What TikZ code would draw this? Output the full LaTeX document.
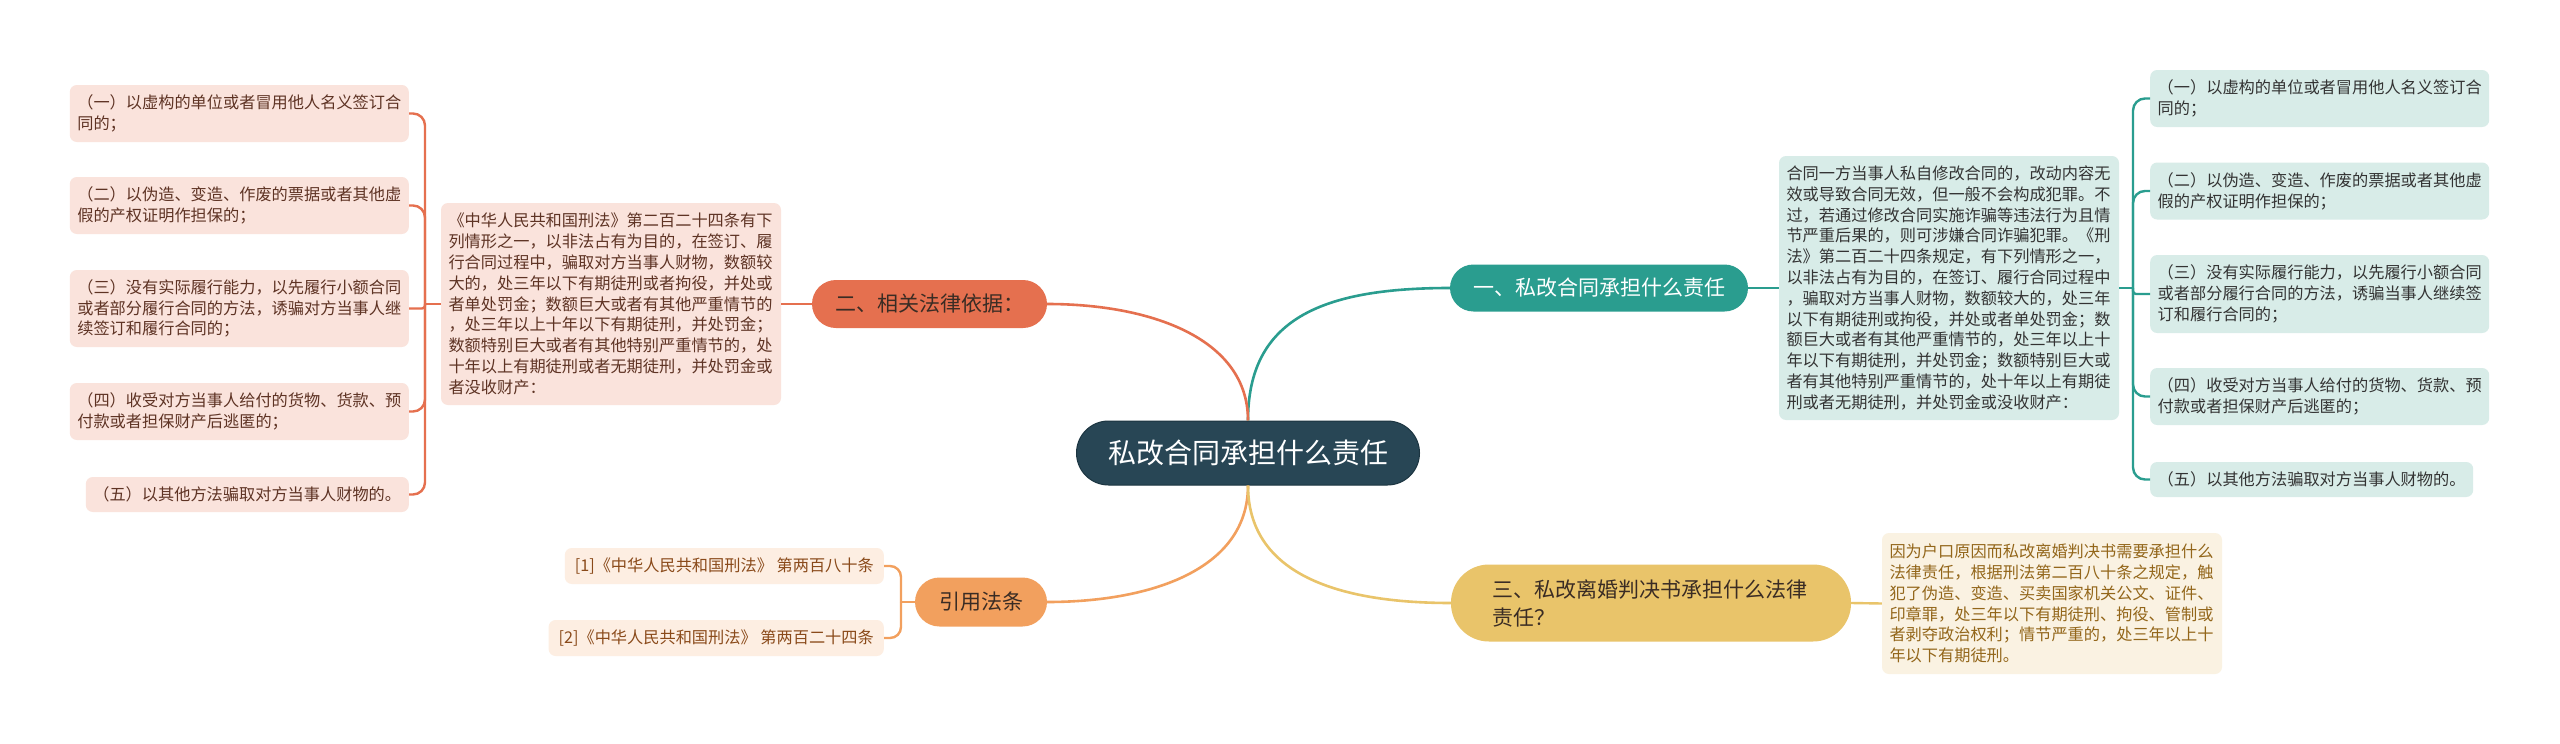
\documentclass[tikz,border=0pt]{standalone}
\usepackage{fontspec}
\setmainfont{Noto Sans CJK SC}
\definecolor{cdark}{HTML}{284655}
\definecolor{cdarkline}{HTML}{1C3541}
\definecolor{cteal}{HTML}{2A9D8F}
\definecolor{ctealbg}{HTML}{D8ECE8}
\definecolor{ccoral}{HTML}{E5704F}
\definecolor{ccoralbg}{HTML}{FAE3DC}
\definecolor{ccoraltx}{HTML}{5E3324}
\definecolor{corange}{HTML}{F2A05E}
\definecolor{corangebg}{HTML}{FDEEE2}
\definecolor{corangetx}{HTML}{8A4A1A}
\definecolor{cgold}{HTML}{E9C46A}
\definecolor{cgoldbg}{HTML}{FAF2E2}
\definecolor{cgoldtx}{HTML}{93661A}
\definecolor{ctext}{HTML}{333333}
\definecolor{cbrtx}{HTML}{3A2C24}
\tikzset{
  centre/.style={fill=cdark, draw=cdarkline, line width=1pt, text=white, rounded corners=32pt,
    minimum width=343pt, minimum height=64pt, inner sep=0pt, font=\fontsize{28}{34}\selectfont},
  branch/.style={inner sep=0pt, font=\fontsize{21}{28}\selectfont},
  tbox/.style={rounded corners=7pt, text width=325pt, inner xsep=7.5pt, inner ysep=4pt,
    align=left, font=\fontsize{16.2}{20.8}\selectfont},
  leafbox/.style={rounded corners=7pt, text width=324pt, inner xsep=7.5pt, inner ysep=4pt,
    align=left, font=\fontsize{16.2}{20.8}\selectfont},
  shortleaf/.style={text width=308pt},
  oleaf/.style={rounded corners=7pt, fill=corangebg, text=corangetx, inner xsep=10pt,
    minimum height=36pt, font=\fontsize{16.2}{20.8}\selectfont},
  conn/.style={line width=2.6pt},
  brk/.style={line width=2.4pt}
}
\begin{document}
\begin{tikzpicture}[x=1pt,y=-1pt]
\useasboundingbox (0,0) rectangle (2560,744);
\fill[white] (0,0) rectangle (2560,744);

% central node
\node[centre] (c) at (1248,453) {私改合同承担什么责任};

% branch nodes
\node[branch, fill=cteal, text=white, rounded corners=23.5pt, minimum width=298pt, minimum height=47pt] (b1) at (1599,288) {一、私改合同承担什么责任};
\node[branch, fill=ccoral, text=cbrtx, rounded corners=24pt, minimum width=235pt, minimum height=48pt] (b2) at (929.5,304) {二、相关法律依据：};
\node[branch, fill=corange, text=cbrtx, rounded corners=24.5pt, minimum width=132pt, minimum height=49pt] (b3) at (981,602) {引用法条};
\node[branch, fill=cgold, text=cbrtx, rounded corners=38pt, minimum width=400pt, minimum height=77pt, text width=318pt, align=left] (b4) at (1651,603) {三、私改离婚判决书承担什么法律\\责任？};

% central connectors
\draw[conn, cteal] (c.north) .. controls (1248,320) and (1320,288) .. (b1.west);
\draw[conn, ccoral] (c.north) .. controls (1248,338) and (1150,304) .. (b2.east);
\draw[conn, corange] (c.south) .. controls (1248,570) and (1150,602) .. (b3.east);
\draw[conn, cgold] (c.south) .. controls (1248,570) and (1330,603) .. (b4.west);

% right text box (teal)
\node[tbox, fill=ctealbg, text=ctext, minimum height=264pt] (rbox) at (1949,288) {合同一方当事人私自修改合同的，改动内容无\\效或导致合同无效，但一般不会构成犯罪。不\\过，若通过修改合同实施诈骗等违法行为且情\\节严重后果的，则可涉嫌合同诈骗犯罪。《刑\\法》第二百二十四条规定，有下列情形之一，\\以非法占有为目的，在签订、履行合同过程中\\，骗取对方当事人财物，数额较大的，处三年\\以下有期徒刑或拘役，并处或者单处罚金；数\\额巨大或者有其他严重情节的，处三年以上十\\年以下有期徒刑，并处罚金；数额特别巨大或\\者有其他特别严重情节的，处十年以上有期徒\\刑或者无期徒刑，并处罚金或没收财产：};
\draw[brk, cteal] (b1.east) -- (rbox.west);

% right leaves
\node[leafbox, fill=ctealbg, text=ctext, minimum height=57pt, anchor=west] (rl1) at (2150,98.5) {（一）以虚构的单位或者冒用他人名义签订合\\同的；};
\node[leafbox, fill=ctealbg, text=ctext, minimum height=57pt, anchor=west] (rl2) at (2150,191) {（二）以伪造、变造、作废的票据或者其他虚\\假的产权证明作担保的；};
\node[leafbox, fill=ctealbg, text=ctext, minimum height=78pt, anchor=west] (rl3) at (2150,294) {（三）没有实际履行能力，以先履行小额合同\\或者部分履行合同的方法，诱骗当事人继续签\\订和履行合同的；};
\node[leafbox, fill=ctealbg, text=ctext, minimum height=57pt, anchor=west] (rl4) at (2150,396.5) {（四）收受对方当事人给付的货物、货款、预\\付款或者担保财产后逃匿的；};
\node[leafbox, shortleaf, fill=ctealbg, text=ctext, minimum height=35pt, anchor=west] (rl5) at (2150,479.5) {（五）以其他方法骗取对方当事人财物的。};
\coordinate (rsp) at (2133,288);
\draw[brk, cteal] (rbox.east) -- (rsp);
\draw[brk, cteal, rounded corners=12pt] (rsp) |- (rl1.west);
\draw[brk, cteal, rounded corners=12pt] (rsp) |- (rl2.west);
\draw[brk, cteal, rounded corners=3pt] (rsp) |- (rl3.west);
\draw[brk, cteal, rounded corners=12pt] (rsp) |- (rl4.west);
\draw[brk, cteal, rounded corners=12pt] (rsp) |- (rl5.west);

% left text box (coral)
\node[tbox, fill=ccoralbg, text=ccoraltx, minimum height=202pt] (lbox) at (611,304) {《中华人民共和国刑法》第二百二十四条有下\\列情形之一，以非法占有为目的，在签订、履\\行合同过程中，骗取对方当事人财物，数额较\\大的，处三年以下有期徒刑或者拘役，并处或\\者单处罚金；数额巨大或者有其他严重情节的\\，处三年以上十年以下有期徒刑，并处罚金；\\数额特别巨大或者有其他特别严重情节的，处\\十年以上有期徒刑或者无期徒刑，并处罚金或\\者没收财产：};
\draw[brk, ccoral] (b2.west) -- (lbox.east);

% left leaves
\node[leafbox, fill=ccoralbg, text=ccoraltx, minimum height=57pt, anchor=east] (ll1) at (409,113.5) {（一）以虚构的单位或者冒用他人名义签订合\\同的；};
\node[leafbox, fill=ccoralbg, text=ccoraltx, minimum height=57pt, anchor=east] (ll2) at (409,205.5) {（二）以伪造、变造、作废的票据或者其他虚\\假的产权证明作担保的；};
\node[leafbox, fill=ccoralbg, text=ccoraltx, minimum height=77pt, anchor=east] (ll3) at (409,308.5) {（三）没有实际履行能力，以先履行小额合同\\或者部分履行合同的方法，诱骗对方当事人继\\续签订和履行合同的；};
\node[leafbox, fill=ccoralbg, text=ccoraltx, minimum height=57pt, anchor=east] (ll4) at (409,411.5) {（四）收受对方当事人给付的货物、货款、预\\付款或者担保财产后逃匿的；};
\node[leafbox, shortleaf, fill=ccoralbg, text=ccoraltx, minimum height=35pt, anchor=east] (ll5) at (409,494.5) {（五）以其他方法骗取对方当事人财物的。};
\coordinate (lsp) at (425,304);
\draw[brk, ccoral] (lbox.west) -- (lsp);
\draw[brk, ccoral, rounded corners=12pt] (lsp) |- (ll1.east);
\draw[brk, ccoral, rounded corners=12pt] (lsp) |- (ll2.east);
\draw[brk, ccoral, rounded corners=3pt] (lsp) |- (ll3.east);
\draw[brk, ccoral, rounded corners=12pt] (lsp) |- (ll4.east);
\draw[brk, ccoral, rounded corners=12pt] (lsp) |- (ll5.east);

% orange leaves
\node[oleaf, anchor=east] (ol1) at (884,566) {[1]《中华人民共和国刑法》 第两百八十条};
\node[oleaf, anchor=east] (ol2) at (884,638) {[2]《中华人民共和国刑法》 第两百二十四条};
\coordinate (osp) at (901,602);
\draw[brk, corange] (b3.west) -- (osp);
\draw[brk, corange, rounded corners=11pt] (osp) |- (ol1.east);
\draw[brk, corange, rounded corners=11pt] (osp) |- (ol2.east);

% gold text box
\node[tbox, fill=cgoldbg, text=cgoldtx, minimum height=141pt] (gbox) at (2052,603.5) {因为户口原因而私改离婚判决书需要承担什么\\法律责任，根据刑法第二百八十条之规定，触\\犯了伪造、变造、买卖国家机关公文、证件、\\印章罪，处三年以下有期徒刑、拘役、管制或\\者剥夺政治权利；情节严重的，处三年以上十\\年以下有期徒刑。};
\draw[brk, cgold] (b4.east) -- (gbox.west);
\end{tikzpicture}
\end{document}
